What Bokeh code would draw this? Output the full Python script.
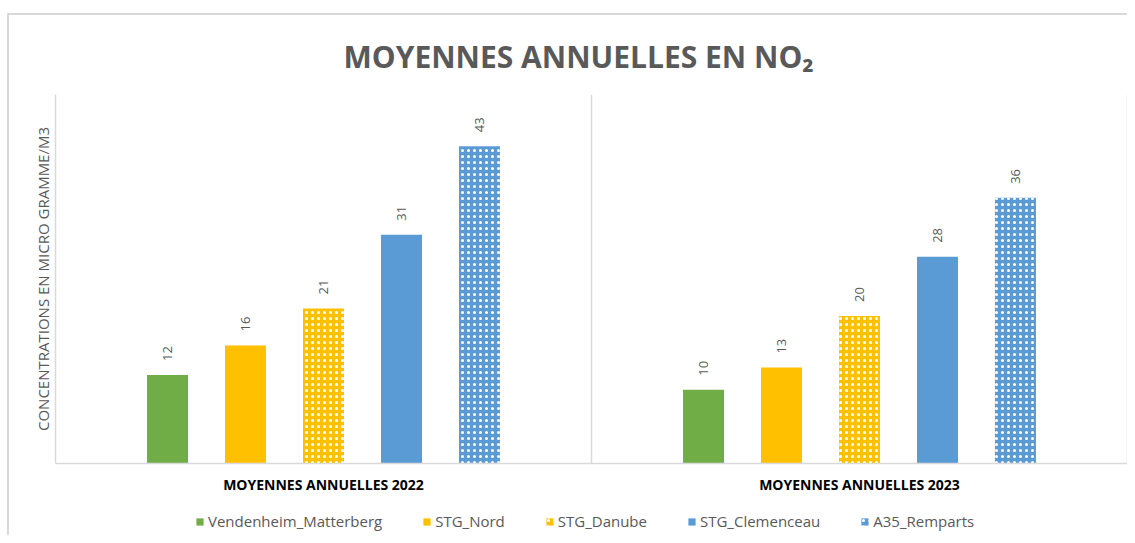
import math
from bokeh.plotting import figure
from bokeh.layouts import column
from bokeh.models import (ColumnDataSource, FactorRange, Range1d, Span, Legend,
                          LegendItem, FixedTicker)
from bokeh.transform import dodge
from bokeh.core.properties import value
from bokeh.embed import file_html
from bokeh.resources import INLINE

# ---- data ----
groups = ["MOYENNES ANNUELLES 2022", "MOYENNES ANNUELLES 2023"]
stations = ["Vendenheim_Matterberg", "STG_Nord", "STG_Danube", "STG_Clemenceau", "A35_Remparts"]
vendenheim_matterberg = [12, 10]
stg_nord = [16, 13]
stg_danube = [21, 20]
stg_clemenceau = [31, 28]
a35_remparts = [43, 36]
series = [vendenheim_matterberg, stg_nord, stg_danube, stg_clemenceau, a35_remparts]

# ---- styles ----
colors = ["#70AD47", "#FFC000", "#FFC000", "#5B9BD5", "#5B9BD5"]
patterned = [False, False, True, False, True]
offsets = [-0.291, -0.1455, 0.0, 0.1455, 0.291]
bar_width = 0.0765
FONT = "Open Sans"
GRAY = "#595959"
LINE = "#D9D9D9"

data = {"group": groups}
for name, vals in zip(stations, series):
    data[name] = vals
    data[name + "_lbl"] = [str(v) for v in vals]
src = ColumnDataSource(data)

x_range = FactorRange(factors=groups, range_padding=0)

p = figure(x_range=x_range, y_range=Range1d(0, 50),
           width=1118, height=482,
           output_backend="svg", toolbar_location=None,
           min_border_left=46, min_border_right=0,
           min_border_top=75, min_border_bottom=34)

p.title.text = "MOYENNES ANNUELLES EN NO\u2082"
p.title.align = "left"
p.title.offset = 288
p.title.standoff = 36
p.title.text_font = FONT
p.title.text_font_size = "30px"
p.title.text_font_style = "bold"
p.title.text_color = GRAY

p.xgrid.grid_line_color = None
p.ygrid.grid_line_color = None
p.outline_line_color = None


def bar_kwargs(i, name):
    kw = dict(x=dodge("group", offsets[i], range=x_range), top=name, width=bar_width,
              source=src, fill_color=colors[i], line_color=None)
    if patterned[i]:
        kw.update(hatch_pattern="dot", hatch_color="white", hatch_scale=6, hatch_weight=1.5)
    return kw


for i, name in enumerate(stations):
    p.vbar(**bar_kwargs(i, name))
    p.text(x=dodge("group", offsets[i], range=x_range), y=name, text=name + "_lbl",
           source=src, angle=math.pi / 2, text_align="left", text_baseline="middle",
           y_offset=-14, text_font=value(FONT), text_font_size="13px", text_color=GRAY)

for loc in [1, 2]:
    p.add_layout(Span(location=loc, dimension="height", line_color=LINE, line_width=1.5))

p.xaxis.axis_line_color = LINE
p.xaxis.axis_line_width = 1.5
p.xaxis.major_tick_line_color = None
p.xaxis.minor_tick_line_color = None
p.xaxis.major_label_text_font = FONT
p.xaxis.major_label_text_font_size = "14px"
p.xaxis.major_label_text_font_style = "bold"
p.xaxis.major_label_text_color = "#000000"
p.xaxis.major_label_standoff = 5

p.yaxis.ticker = FixedTicker(ticks=[])
p.yaxis.axis_line_color = LINE
p.yaxis.axis_line_width = 1.5
p.yaxis.major_tick_line_color = None
p.yaxis.minor_tick_line_color = None
p.yaxis.axis_label = "CONCENTRATIONS EN MICRO GRAMME/M3"
p.yaxis.axis_label_text_font = FONT
p.yaxis.axis_label_text_font_size = "15px"
p.yaxis.axis_label_text_font_style = "normal"
p.yaxis.axis_label_text_color = GRAY
p.yaxis.axis_label_standoff = 3

# ---- legend strip (same series, same styles) ----
pl = figure(x_range=x_range, y_range=Range1d(100, 101),
            width=1118, height=38, output_backend="svg", toolbar_location=None,
            x_axis_location=None, y_axis_location=None,
            min_border_left=0, min_border_right=0, min_border_top=0, min_border_bottom=0)
pl.grid.grid_line_color = None
pl.outline_line_color = None
items = []
for i, name in enumerate(stations):
    r = pl.vbar(**bar_kwargs(i, name))
    items.append(LegendItem(label=name, renderers=[r]))
legend = Legend(items=items, orientation="horizontal", location=(140, 4),
                label_text_font=FONT, label_text_font_size="15px", label_text_color=GRAY,
                glyph_width=9, glyph_height=9, spacing=40, label_standoff=4,
                border_line_color=None, background_fill_alpha=0, padding=2)
pl.add_layout(legend, "center")

layout = column(p, pl, margin=(13, 0, 0, 7),
                styles={"border-left": "2px solid " + LINE, "border-top": "2px solid " + LINE})

open("out.html", "w").write(file_html(layout, INLINE))
